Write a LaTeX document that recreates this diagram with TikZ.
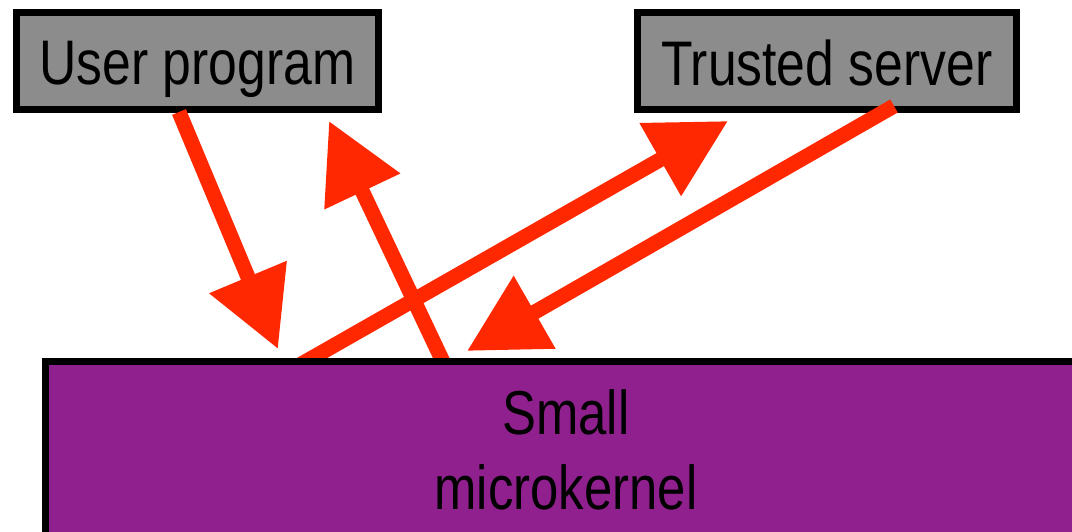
\documentclass[tikz,border=0pt]{standalone}
\usepackage{fontspec}
\setmainfont{Liberation Sans}[FakeStretch=0.82]
\usetikzlibrary{arrows.meta}
\definecolor{callred}{RGB}{255,40,0}
\definecolor{kernelpurple}{RGB}{145,32,143}
\definecolor{servergray}{RGB}{140,140,140}
\tikzset{
  procbox/.style={draw=black, line width=7pt, fill=servergray, rectangle,
    inner sep=0pt, font=\fontsize{63}{75}\selectfont},
  kernelbox/.style={draw=black, line width=7pt, fill=kernelpurple, rectangle,
    inner sep=0pt, align=center, font=\fontsize{62}{75}\selectfont},
  call/.style={draw=callred, line width=15pt,
    -{Triangle[length=78pt,width=80pt]}}
}
\begin{document}
\begin{tikzpicture}[x=1pt,y=-1pt]
  \useasboundingbox (0,0) rectangle (1072,532);
  \clip (0,0) rectangle (1072,532);
  % user-level processes
  \node[procbox, minimum width=362pt, minimum height=96.5pt,
        text height=55pt, text depth=7.5pt] (user) at (197.5,61.25) {User program};
  \node[procbox, minimum width=379.5pt, minimum height=96.5pt,
        text height=56pt, text depth=6.5pt] (server) at (826.75,61.25) {Trusted server};
  % end points of the message paths
  \coordinate (u-out) at (179,112);
  \coordinate (k-in1) at (278,349);
  \coordinate (k-out1) at (445,366);
  \coordinate (u-in) at (329,121);
  \coordinate (k-out2) at (298,366);
  \coordinate (s-in) at (728,121);
  \coordinate (s-out) at (894,106);
  \coordinate (k-in2) at (467,351);
  % messages passed through the kernel
  \draw[call] (u-out) -- (k-in1);
  \draw[call] (k-out1) -- (u-in);
  \draw[call] (k-out2) -- (s-in);
  \draw[call] (s-out) -- (k-in2);
  % the kernel itself
  \node[kernelbox, minimum width=1042pt, minimum height=177pt] (kernel) at (566,450)
    {Small\\microkernel};
\end{tikzpicture}
\end{document}
